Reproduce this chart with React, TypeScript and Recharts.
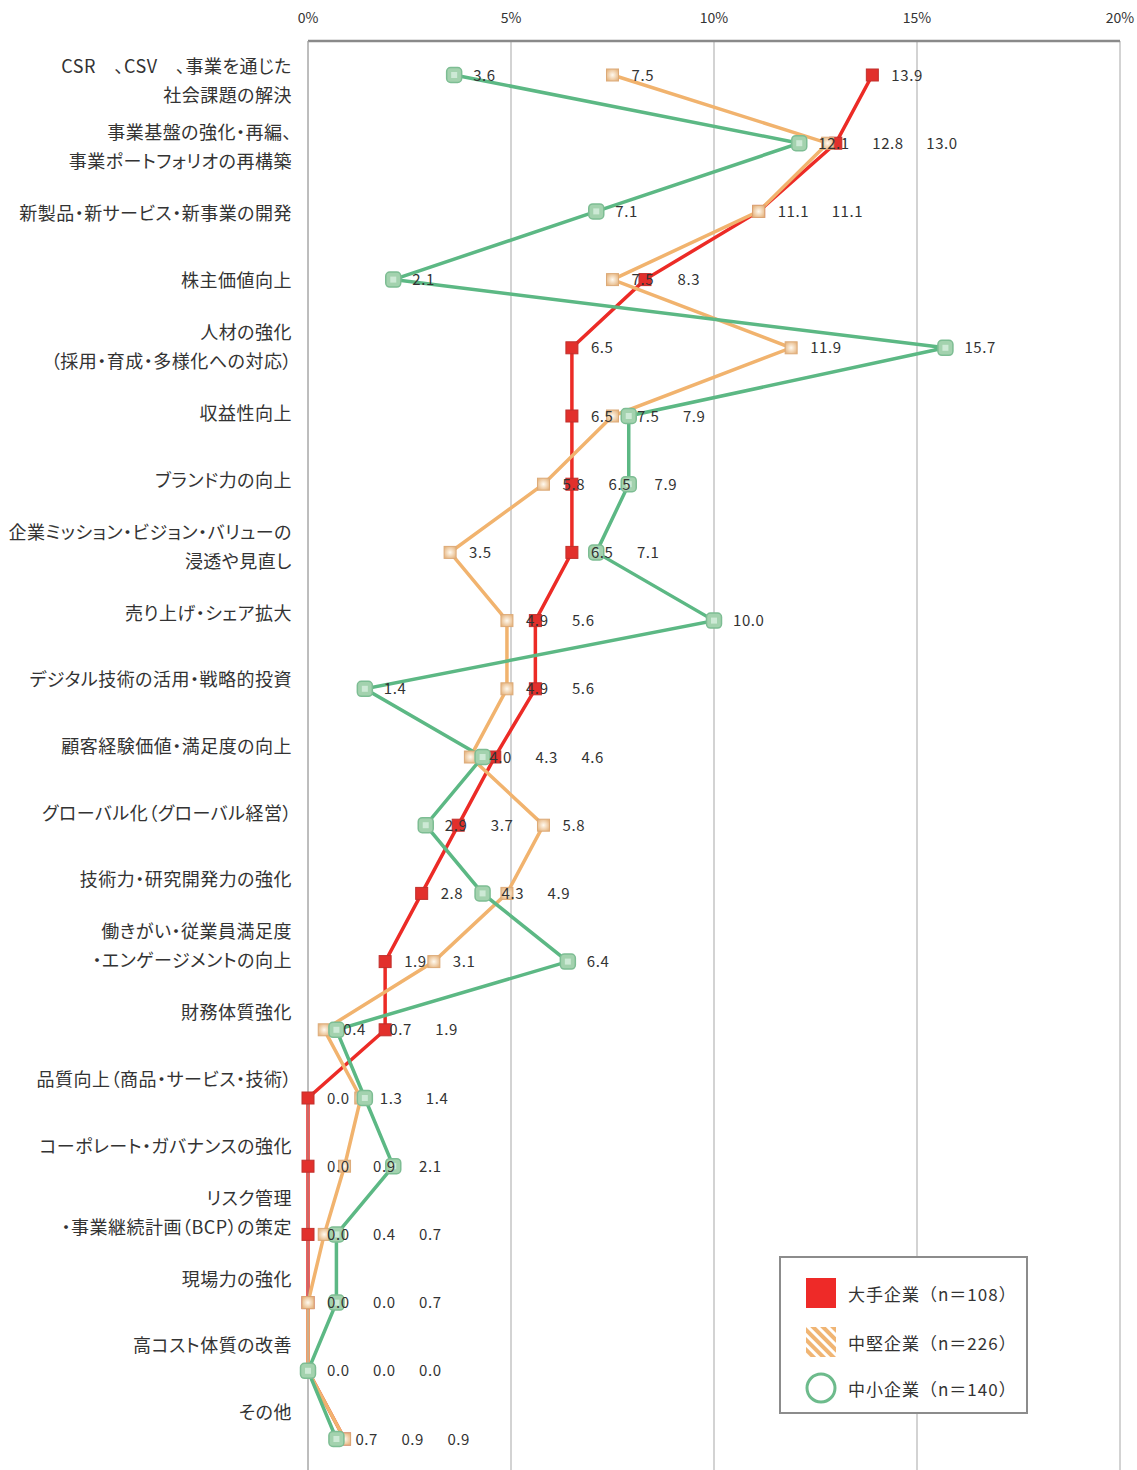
import React from 'react';
import { LineChart, Line, XAxis, YAxis, CartesianGrid } from 'recharts';

const FONT = "'Noto Sans CJK JP', 'Noto Sans', sans-serif";

const categories: string[][] = [
  ['CSR　、CSV　、事業を通じた', '社会課題の解決'],
  ['事業基盤の強化・再編、', '事業ポートフォリオの再構築'],
  ['新製品・新サービス・新事業の開発'],
  ['株主価値向上'],
  ['人材の強化', '（採用・育成・多様化への対応）'],
  ['収益性向上'],
  ['ブランド力の向上'],
  ['企業ミッション・ビジョン・バリューの', '浸透や見直し'],
  ['売り上げ・シェア拡大'],
  ['デジタル技術の活用・戦略的投資'],
  ['顧客経験価値・満足度の向上'],
  ['グローバル化（グローバル経営）'],
  ['技術力・研究開発力の強化'],
  ['働きがい・従業員満足度', '・エンゲージメントの向上'],
  ['財務体質強化'],
  ['品質向上（商品・サービス・技術）'],
  ['コーポレート・ガバナンスの強化'],
  ['リスク管理', '・事業継続計画（BCP）の策定'],
  ['現場力の強化'],
  ['高コスト体質の改善'],
  ['その他'],
];

// 大手企業
const largeValues = [13.9, 13.0, 11.1, 8.3, 6.5, 6.5, 6.5, 6.5, 5.6, 5.6, 4.6, 3.7, 2.8, 1.9, 1.9, 0.0, 0.0, 0.0, 0.0, 0.0, 0.9];
// 中堅企業
const midValues = [7.5, 12.8, 11.1, 7.5, 11.9, 7.5, 5.8, 3.5, 4.9, 4.9, 4.0, 5.8, 4.9, 3.1, 0.4, 1.3, 0.9, 0.4, 0.0, 0.0, 0.9];
// 中小企業
const smallValues = [3.6, 12.1, 7.1, 2.1, 15.7, 7.9, 7.9, 7.1, 10.0, 1.4, 4.3, 2.9, 4.3, 6.4, 0.7, 1.4, 2.1, 0.7, 0.7, 0.0, 0.7];

const xTicks = [0, 5, 10, 15, 20];

const legendItems = [
  { key: 'large', label: '大手企業（n＝108）' },
  { key: 'mid', label: '中堅企業（n＝226）' },
  { key: 'small', label: '中小企業（n＝140）' },
];

const data = categories.map((lines, i) => ({
  name: lines.join('\n'),
  large: largeValues[i],
  mid: midValues[i],
  small: smallValues[i],
}));

const CHART_W = 1137;
const CHART_H = 1475;
const MARGIN = { top: 11, right: 17, bottom: 2, left: 8 };
const Y_AXIS_W = 300;
const X_MAX = 20;
const PX_PER_UNIT = (CHART_W - MARGIN.left - MARGIN.right - Y_AXIS_W) / X_MAX;

const RED = '#ec2b26';
const ORANGE = '#f1b36e';
const GREEN = '#5cb884';

const CategoryTick = (props: any) => {
  const { x, y, payload, index } = props;
  const lines = String(payload.value).split('\n');
  const lh = 29;
  const shift = 6 - 1.6 * index;
  const startY = y + shift - ((lines.length - 1) * lh) / 2;
  return (
    <text
      x={x}
      y={startY}
      textAnchor="end"
      fontSize={18}
      fill="#333"
      fontFamily={FONT}
      letterSpacing={0.5}
      style={{ fontFeatureSettings: '"palt"' }}
    >
      {lines.map((l, i) => (
        <tspan key={i} x={x} y={startY + i * lh} dy={6}>
          {l}
        </tspan>
      ))}
    </text>
  );
};

const PercentTick = (props: any) => {
  const { x, y, payload } = props;
  return (
    <text x={x} y={y} textAnchor="middle" fontSize={14} fill="#333" fontFamily={FONT}>
      {payload.value}%
    </text>
  );
};

const RedDot = (props: any) => {
  const { cx, cy, index } = props;
  if (cx == null) return <g key={`r${index}`} />;
  return (
    <rect key={`r${index}`} x={cx - 6} y={cy - 6} width={12} height={12} fill="#e2302c" stroke="#c0302c" strokeWidth={1} />
  );
};

const OrangeDot = (props: any) => {
  const { cx, cy, index } = props;
  if (cx == null) return <g key={`o${index}`} />;
  return (
    <rect key={`o${index}`} x={cx - 6} y={cy - 6} width={12} height={12} fill="url(#orangeGrad)" stroke="#dcaa78" strokeWidth={1} />
  );
};

const GreenDot = (props: any) => {
  const { cx, cy, index } = props;
  if (cx == null) return <g key={`g${index}`} />;
  return (
    <g key={`g${index}`}>
      <rect x={cx - 7.5} y={cy - 7.5} width={15} height={15} rx={4} fill="#a3d2ae" stroke="#7dbd93" strokeWidth={1.5} />
      <rect x={cx - 3} y={cy - 3} width={6} height={6} fill="#cde9d5" />
    </g>
  );
};

// value labels for one row, laid out left to right so they don't collide
const RowLabels = (props: any) => {
  const { cx, cy, index } = props;
  if (cx == null) return <g key={`l${index}`} />;
  const base = largeValues[index];
  const vals = [largeValues[index], midValues[index], smallValues[index]].sort((a, b) => a - b);
  let nextMin = -Infinity;
  return (
    <g key={`l${index}`}>
      {vals.map((v, i) => {
        const px = cx + (v - base) * PX_PER_UNIT;
        const txt = v.toFixed(1);
        const lx = Math.max(px + 19, nextMin);
        nextMin = lx + txt.length * 8 + 22;
        return (
          <text key={i} x={lx} y={cy} dy={5.5} fontSize={15} fill="#333" fontFamily={FONT} letterSpacing={0.6}>
            {txt}
          </text>
        );
      })}
    </g>
  );
};

const LegendBox = () => (
  <div
    style={{
      position: 'absolute',
      left: 779,
      top: 1256,
      width: 249,
      height: 158,
      boxSizing: 'border-box',
      border: '2.5px solid #8c8c8c',
      background: '#fff',
      fontFamily: FONT,
    }}
  >
    {legendItems.map((item, i) => {
      const centers = [35, 84, 130];
      return (
        <div
          key={item.key}
          style={{
            position: 'absolute',
            left: 23,
            top: centers[i] - 17,
            height: 34,
            display: 'flex',
            alignItems: 'center',
          }}
        >
          <svg width={34} height={34} style={{ marginRight: 10 }}>
            <defs>
              <pattern id="hatch" width={7} height={7} patternUnits="userSpaceOnUse" patternTransform="rotate(-45)">
                <rect width={7} height={7} fill="#f0b574" />
                <rect x={0} y={0} width={3} height={7} fill="#fff" />
              </pattern>
            </defs>
            {item.key === 'large' && <rect x={2} y={2} width={30} height={30} fill="#ee2a28" />}
            {item.key === 'mid' && <rect x={2} y={2} width={30} height={30} fill="url(#hatch)" />}
            {item.key === 'small' && <circle cx={17} cy={17} r={14} fill="#fff" stroke="#6dbb8c" strokeWidth={3} />}
          </svg>
          <span style={{ fontSize: 17, color: '#333', letterSpacing: 1, whiteSpace: 'nowrap' }}>{item.label}</span>
        </div>
      );
    })}
  </div>
);

export default function App() {
  return (
    <div style={{ position: 'absolute', left: 0, top: 0, width: CHART_W, height: 1470, overflow: 'hidden', background: '#fff' }}>
      <LineChart width={CHART_W} height={CHART_H} data={data} layout="vertical" margin={MARGIN}>
        <defs>
          <radialGradient id="orangeGrad" cx="50%" cy="50%" r="60%">
            <stop offset="0%" stopColor="#fffaf0" />
            <stop offset="100%" stopColor="#e6b47e" />
          </radialGradient>
        </defs>
        <CartesianGrid horizontal={false} stroke="#c4c4c4" strokeWidth={1.5} />
        <XAxis
          type="number"
          orientation="top"
          domain={[0, X_MAX]}
          ticks={xTicks}
          height={30}
          axisLine={{ stroke: '#8a8a8a', strokeWidth: 2.5 }}
          tickLine={false}
          tickSize={0}
          tickMargin={18}
          tick={<PercentTick />}
          interval={0}
        />
        <YAxis
          type="category"
          dataKey="name"
          width={Y_AXIS_W}
          padding={{ top: 34, bottom: 34 }}
          axisLine={{ stroke: '#a8a8a8', strokeWidth: 1 }}
          tickLine={false}
          tickSize={0}
          tickMargin={16}
          tick={<CategoryTick />}
          interval={0}
        />
        <Line
          dataKey="large"
          stroke={RED}
          strokeWidth={3.5}
          dot={RedDot}
          activeDot={false}
          isAnimationActive={false}
        />
        <Line
          dataKey="mid"
          stroke={ORANGE}
          strokeWidth={3.5}
          dot={OrangeDot}
          activeDot={false}
          isAnimationActive={false}
        />
        <Line
          dataKey="small"
          stroke={GREEN}
          strokeWidth={3.5}
          dot={GreenDot}
          activeDot={false}
          isAnimationActive={false}
        />
        <Line
          dataKey="large"
          stroke="none"
          dot={RowLabels}
          activeDot={false}
          legendType="none"
          isAnimationActive={false}
        />
      </LineChart>
      <LegendBox />
    </div>
  );
}
